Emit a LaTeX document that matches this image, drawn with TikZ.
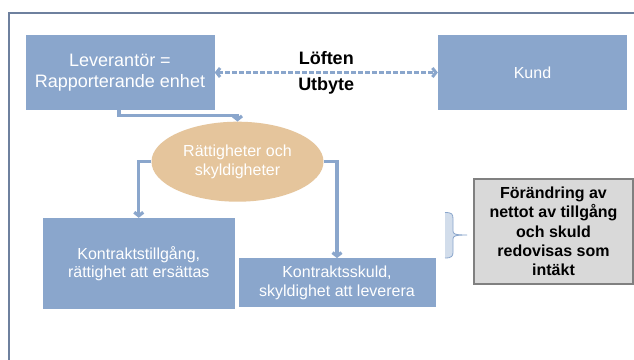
\documentclass[tikz,border=0pt]{standalone}
\usepackage{fontspec}
\setmainfont{Liberation Sans}
\usetikzlibrary{arrows.meta,shapes.geometric}
\definecolor{boxblue}{RGB}{138,166,204}
\definecolor{framec}{RGB}{110,128,158}
\definecolor{tan}{RGB}{229,197,156}
\definecolor{greyfill}{RGB}{217,217,217}
\definecolor{greyline}{RGB}{128,128,128}
\definecolor{bracefill}{RGB}{210,221,235}
\tikzset{
  bluebox/.style={rectangle, fill=boxblue, draw=none, text=white, align=center, inner sep=0pt},
  conn/.style={draw=boxblue, line width=3.2pt, -{Straight Barb[length=3.5pt,width=9pt]}},
  dconn/.style={draw=boxblue, line width=3pt, dash pattern=on 5pt off 2pt, {Straight Barb[length=3.5pt,width=9pt]}-{Straight Barb[length=3.5pt,width=9pt]}},
  lbl/.style={font=\fontsize{18}{21}\selectfont\bfseries, text=black, inner sep=0pt}
}
\begin{document}
\begin{tikzpicture}[x=1pt,y=-1pt]
\useasboundingbox (0,0) rectangle (634,359);
\fill[white] (0,0) rectangle (634,359);
% frame
\draw[framec, line width=2pt] (9,362) -- (9,13) -- (640,13);
% nodes
\node[bluebox, minimum width=189pt, minimum height=75pt, font=\fontsize{18}{21}\selectfont] (lev) at (120,72.5) {Leverantör =\\Rapporterande enhet};
\node[bluebox, minimum width=189pt, minimum height=75pt, font=\fontsize{16}{19}\selectfont] (kund) at (532.5,72.5) {Kund};
\node[ellipse, fill=tan, draw=none, minimum width=172pt, minimum height=80pt, inner sep=0pt, text=white, align=center, font=\fontsize{16}{19}\selectfont] (ell) at (237.5,161.7) {Rättigheter och\\skyldigheter};
\node[bluebox, minimum width=191.5pt, minimum height=91pt, font=\fontsize{16}{18.5}\selectfont] (ktg) at (138.75,263.5) {Kontraktstillgång,\\rättighet att ersättas};
\node[bluebox, minimum width=197pt, minimum height=49pt, font=\fontsize{16}{19.3}\selectfont] (ksk) at (337,282.8) {Kontraktsskuld,\\skyldighet att leverera};
\node[rectangle, fill=greyfill, draw=greyline, line width=1.2pt, minimum width=159pt, minimum height=105pt, inner sep=0pt, align=center, font=\fontsize{16}{19.3}\selectfont\bfseries] (grey) at (553.5,231.5) {Förändring av\\nettot av tillgång\\och skuld\\redovisas som\\intäkt};
% connectors
\draw[conn] ([xshift=-1pt]lev.south) -- ++(0,5.5) -| (ell.north);
\draw[conn] (ell.west) -| (ktg.north);
\draw[conn] (ell.east) -| (ksk.north);
\draw[dconn] (lev.east) -- node[lbl, above=6pt] (loften) {Löften} node[lbl, below=3pt] (utbyte) {Utbyte} (kund.west);
% brace
\draw[boxblue, line width=0.8pt, fill=bracefill] (445,212.5) .. controls (452,212.5) and (453,214) .. (453,219) -- (453,231) .. controls (453,234) and (455,235) .. (467,235) .. controls (455,235) and (453,236) .. (453,239) -- (453,252) .. controls (453,256) and (452,258) .. (445,258);
\end{tikzpicture}
\end{document}
